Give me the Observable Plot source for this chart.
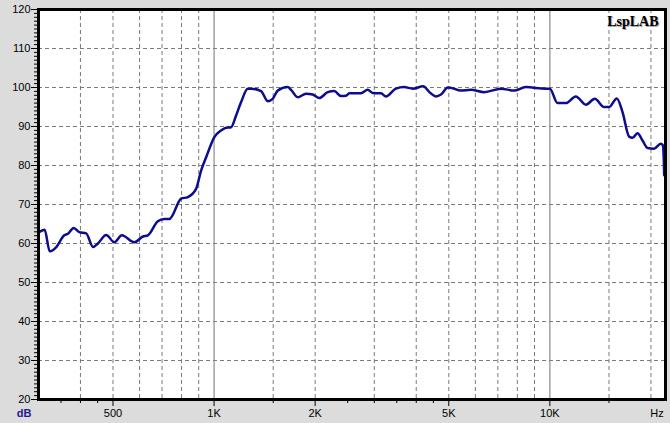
<!DOCTYPE html>
<html><head><meta charset="utf-8">
<script src="https://cdn.jsdelivr.net/npm/d3@7"></script>
<script src="https://cdn.jsdelivr.net/npm/@observablehq/plot@0.6"></script>
<style>html,body{margin:0;padding:0;background:#dcdcdc;} #chart{width:670px;height:423px;}</style>
</head><body><div id="chart"></div>
<script>
const freqHz = [300,313,324,339,358,367,382,397,416,436,451,477,505,531,579,614,635,680,711,736,798,835,884,915,947,1002,1049,1086,1124,1163,1203,1260,1288,1380,1445,1495,1547,1657,1695,1775,1878,1967,2058,2180,2280,2388,2471,2527,2738,2867,2968,3141,3250,3480,3680,3910,4190,4420,4580,4740,4970,5080,5430,5820,6380,7150,7830,8480,9730,10000,10540,11160,11950,12800,13610,14510,15020,15830,16460,17220,17630,18240,18880,19540,20440,21400,21700,21850,21900];
const levelDb = [62.8,63.5,58.0,59.1,62.1,62.5,64.0,62.9,62.6,59.1,60.0,62.2,60.3,62.1,60.3,61.8,62.1,65.7,66.3,66.3,71.5,71.9,74.0,78.7,82.1,87.3,89.0,89.7,89.8,92.8,96.2,99.7,99.7,99.1,96.5,97.1,99.2,100.1,99.4,97.5,98.4,98.2,97.3,98.8,99.1,97.8,97.9,98.5,98.5,99.4,98.6,98.5,97.7,99.7,100.1,99.7,100.3,98.5,97.7,98.2,100.0,99.9,99.2,99.4,98.8,99.7,99.2,100.1,99.7,99.7,96.0,96.0,97.7,95.6,97.1,95.0,95.0,97.2,93.7,87.4,87.1,88.3,86.4,84.5,84.3,85.6,85.2,81.0,77.5];
const xMajorTicks = [500, 1000, 2000, 5000, 10000];
const xMajorLabels = ["500", "1K", "2K", "5K", "10K"];
const xMinorTicks = [350, 400, 450, 1500, 2500, 3000, 3500, 4000, 4500, 15000];
const xGridDashed = [400, 500, 600, 700, 800, 900, 1500, 2000, 3000, 4000, 5000, 6000, 7000, 8000, 9000, 15000, 20000];
const xGridSolid = [1000, 10000];
const yMajorTicks = [20, 30, 40, 50, 60, 70, 80, 90, 100, 110, 120];
const yGrid = [30, 40, 50, 60, 70, 80, 90, 100, 110];
const yMinorTicks = d3.range(20, 121, 1);
const brand = "LspLAB";
const yUnit = "dB";
const xUnit = "Hz";

const data = freqHz.map((f, i) => ({f, db: levelDb[i]}));

const plot = Plot.plot({
  width: 670, height: 423,
  marginLeft: 38, marginRight: 5, marginTop: 9, marginBottom: 24,
  style: {background: "#dcdcdc", fontFamily: "'Liberation Sans', Arial, sans-serif", fontSize: "11px", color: "#000", overflow: "visible"},
  x: {type: "log", domain: [300, 22100]},
  y: {domain: [20, 120]},
  marks: [
    Plot.frame({fill: "white", stroke: null}),
    Plot.ruleY(yGrid, {stroke: "#7a7a7a", strokeDasharray: "4,3", strokeWidth: 1}),
    Plot.ruleX(xGridDashed, {stroke: "#7a7a7a", strokeDasharray: "4,3", strokeWidth: 1}),
    Plot.ruleX(xGridSolid, {stroke: "#8a8a8a", strokeWidth: 1.2}),
    Plot.line(data, {x: "f", y: "db", stroke: "#0c0c8c", strokeWidth: 2.5, curve: "monotone-x"}),
    Plot.frame({stroke: "black", strokeWidth: 3}),
    Plot.axisY(yMinorTicks, {anchor: "left", tickSize: 4, tickFormat: () => "", label: null, stroke: "#000"}),
    Plot.axisY(yMajorTicks, {anchor: "left", tickSize: 7, tickPadding: 1, tickFormat: d => String(d), label: null, stroke: "#000"}),
    Plot.axisX(xMinorTicks, {anchor: "bottom", tickSize: 4, tickFormat: () => "", label: null, stroke: "#000"}),
    Plot.axisX(xMajorTicks, {anchor: "bottom", tickSize: 7, tickFormat: () => "", label: null, stroke: "#000"}),
    Plot.text(xMajorTicks, {x: d => d, frameAnchor: "bottom", dy: 14, text: (d, i) => xMajorLabels[i], textAnchor: "middle", lineAnchor: "middle", fill: "#000", fontSize: 11}),
    Plot.text([yUnit], {frameAnchor: "bottom-left", dx: -14.5, dy: 14, text: d => d, textAnchor: "middle", lineAnchor: "middle", fill: "#1a1a8c", fontWeight: "bold", fontSize: 11}),
    Plot.text([xUnit], {frameAnchor: "bottom-right", dx: -8.5, dy: 14, text: d => d, textAnchor: "middle", lineAnchor: "middle", fill: "#000", fontSize: 11}),
    Plot.text([brand], {frameAnchor: "top-right", dx: -6, dy: 8, text: d => d, textAnchor: "end", lineAnchor: "top", fill: "#a8a8a8", fontWeight: "bold", fontSize: 14, fontFamily: "'Liberation Serif', 'Times New Roman', serif"}),
    Plot.text([brand], {frameAnchor: "top-right", dx: -7, dy: 7, text: d => d, textAnchor: "end", lineAnchor: "top", fill: "#000", fontWeight: "bold", fontSize: 14, fontFamily: "'Liberation Serif', 'Times New Roman', serif"})
  ]
});
document.getElementById("chart").appendChild(plot);
</script>
</body></html>
